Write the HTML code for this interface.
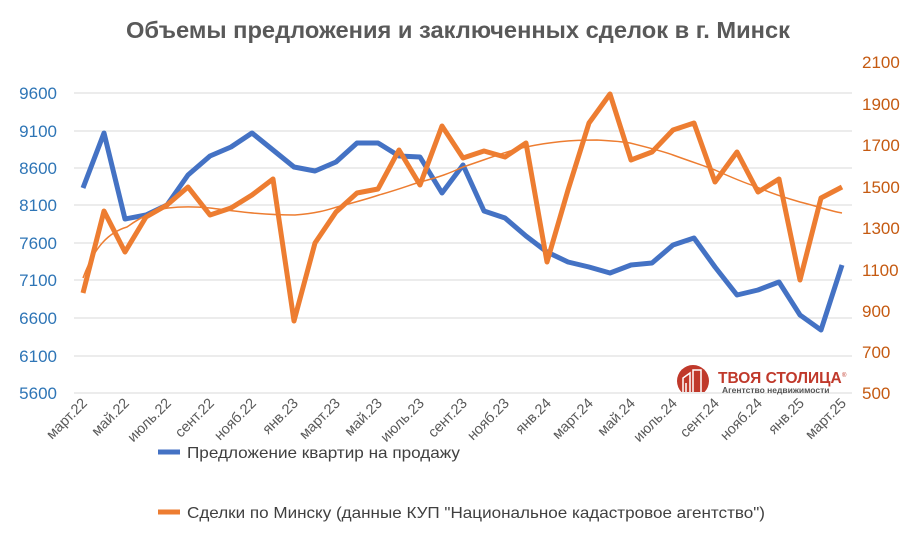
<!DOCTYPE html>
<html><head><meta charset="utf-8"><style>
html,body{margin:0;padding:0;background:#fff}
svg{display:block;font-family:"Liberation Sans","DejaVu Sans",sans-serif}
</style></head><body>
<svg width="917" height="533" viewBox="0 0 917 533" xmlns="http://www.w3.org/2000/svg">
<rect width="917" height="533" fill="#fff"/>
<text x="126" y="38" font-size="23" font-weight="bold" fill="#595959" textLength="664" lengthAdjust="spacingAndGlyphs">Объемы предложения и заключенных сделок в г. Минск</text>
<g stroke="#d9d9d9" stroke-width="1">
<line x1="74" x2="852" y1="93" y2="93"/><line x1="74" x2="852" y1="131" y2="131"/><line x1="74" x2="852" y1="168" y2="168"/><line x1="74" x2="852" y1="205" y2="205"/><line x1="74" x2="852" y1="243" y2="243"/><line x1="74" x2="852" y1="280" y2="280"/><line x1="74" x2="852" y1="318" y2="318"/><line x1="74" x2="852" y1="356" y2="356"/><line x1="74" x2="852" y1="393" y2="393"/>
</g>
<g font-size="17" fill="#2e75b6" text-anchor="end">
<text x="57" y="99">9600</text><text x="57" y="137">9100</text><text x="57" y="174">8600</text><text x="57" y="211">8100</text><text x="57" y="249">7600</text><text x="57" y="286">7100</text><text x="57" y="324">6600</text><text x="57" y="362">6100</text><text x="57" y="399">5600</text>
</g>
<g font-size="17" fill="#c55a11" text-anchor="start">
<text x="862" y="68">2100</text><text x="862" y="110">1900</text><text x="862" y="151">1700</text><text x="862" y="193">1500</text><text x="862" y="234">1300</text><text x="862" y="276">1100</text><text x="862" y="317">900</text><text x="862" y="358">700</text><text x="862" y="399">500</text>
</g>
<g>
<clipPath id="lc"><rect x="670" y="360" width="60" height="32"/></clipPath>
<circle cx="693" cy="381" r="16" fill="#c0392b" clip-path="url(#lc)"/>
<g stroke="#fff" stroke-width="1.5" fill="none"><path d="M683 392 V378 L690 373 V392 M693 392 V370 H701 V392 M686 392 V383"/></g>
<text x="718" y="383" font-size="15.5" font-weight="bold" fill="#c0392b">ТВОЯ СТОЛИЦА</text>
<text x="842" y="377" font-size="6" fill="#c0392b">®</text>
<text x="722" y="393" font-size="8.5" font-weight="bold" fill="#555">Агентство недвижимости</text>
</g>
<polyline fill="none" stroke="#4472c4" stroke-width="5" stroke-linejoin="round" points="83,188 104,133 125,219 146,215 167,205 188,175 210,156 231,147 252,133 273,150 294,167 315,171 336,162 357,143 378,143 399,156 420,157 442,193 463,165 484,211 505,218 526,236 547,252 568,262 589,267 610,273 631,265 652,263 673,245 694,238 715,267 737,295 758,290 779,282 800,315 821,330 842,265"/>
<polyline fill="none" stroke="#ed7d31" stroke-width="5" stroke-linejoin="round" points="83,293 104,211 125,252 146,217 167,205 188,187 210,215 231,208 252,195 273,179 294,321 315,243 336,212 357,193 378,189 399,150 420,185 442,126 463,158 484,151 505,157 526,143 547,262 568,190 589,123 610,94 631,160 652,152 673,130 694,123 715,182 737,152 758,192 779,179 800,280 821,198 842,187"/>
<path fill="none" stroke="#ed7d31" stroke-width="1.5" d="M83,278 C95,245 110,232 127,227 C145,214 160,209 168,208 C185,206 200,207 210,208 C235,211 260,215 295,215 C320,213 330,209 337,207 C360,201 370,198 379,195 C400,189 410,185 420,182 C440,177 450,173 463,167 C490,158 510,150 526,147 C550,142 570,140 597,140 C615,141 625,142 630,143 C650,148 665,152 673,155 C695,163 705,166 715,170 C735,179 745,183 757,187 C775,195 790,199 800,202 C820,207 830,211 842,213"/>
<g font-size="14.5" fill="#595959" text-anchor="end">
<text transform="translate(88,404) rotate(-45)">март.22</text>
<text transform="translate(130,404) rotate(-45)">май.22</text>
<text transform="translate(172,404) rotate(-45)">июль.22</text>
<text transform="translate(215,404) rotate(-45)">сент.22</text>
<text transform="translate(257,404) rotate(-45)">нояб.22</text>
<text transform="translate(299,404) rotate(-45)">янв.23</text>
<text transform="translate(341,404) rotate(-45)">март.23</text>
<text transform="translate(383,404) rotate(-45)">май.23</text>
<text transform="translate(425,404) rotate(-45)">июль.23</text>
<text transform="translate(468,404) rotate(-45)">сент.23</text>
<text transform="translate(510,404) rotate(-45)">нояб.23</text>
<text transform="translate(552,404) rotate(-45)">янв.24</text>
<text transform="translate(594,404) rotate(-45)">март.24</text>
<text transform="translate(636,404) rotate(-45)">май.24</text>
<text transform="translate(678,404) rotate(-45)">июль.24</text>
<text transform="translate(720,404) rotate(-45)">сент.24</text>
<text transform="translate(763,404) rotate(-45)">нояб.24</text>
<text transform="translate(805,404) rotate(-45)">янв.25</text>
<text transform="translate(847,404) rotate(-45)">март.25</text>
</g>
<line x1="158" x2="180" y1="452" y2="452" stroke="#4472c4" stroke-width="5"/>
<text x="187" y="458" font-size="16" fill="#404040" textLength="273" lengthAdjust="spacingAndGlyphs">Предложение квартир на продажу</text>
<line x1="158" x2="180" y1="512" y2="512" stroke="#ed7d31" stroke-width="5"/>
<text x="187" y="518" font-size="16" fill="#404040" textLength="578" lengthAdjust="spacingAndGlyphs">Сделки по Минску (данные КУП "Национальное кадастровое агентство")</text>
</svg>
</body></html>
